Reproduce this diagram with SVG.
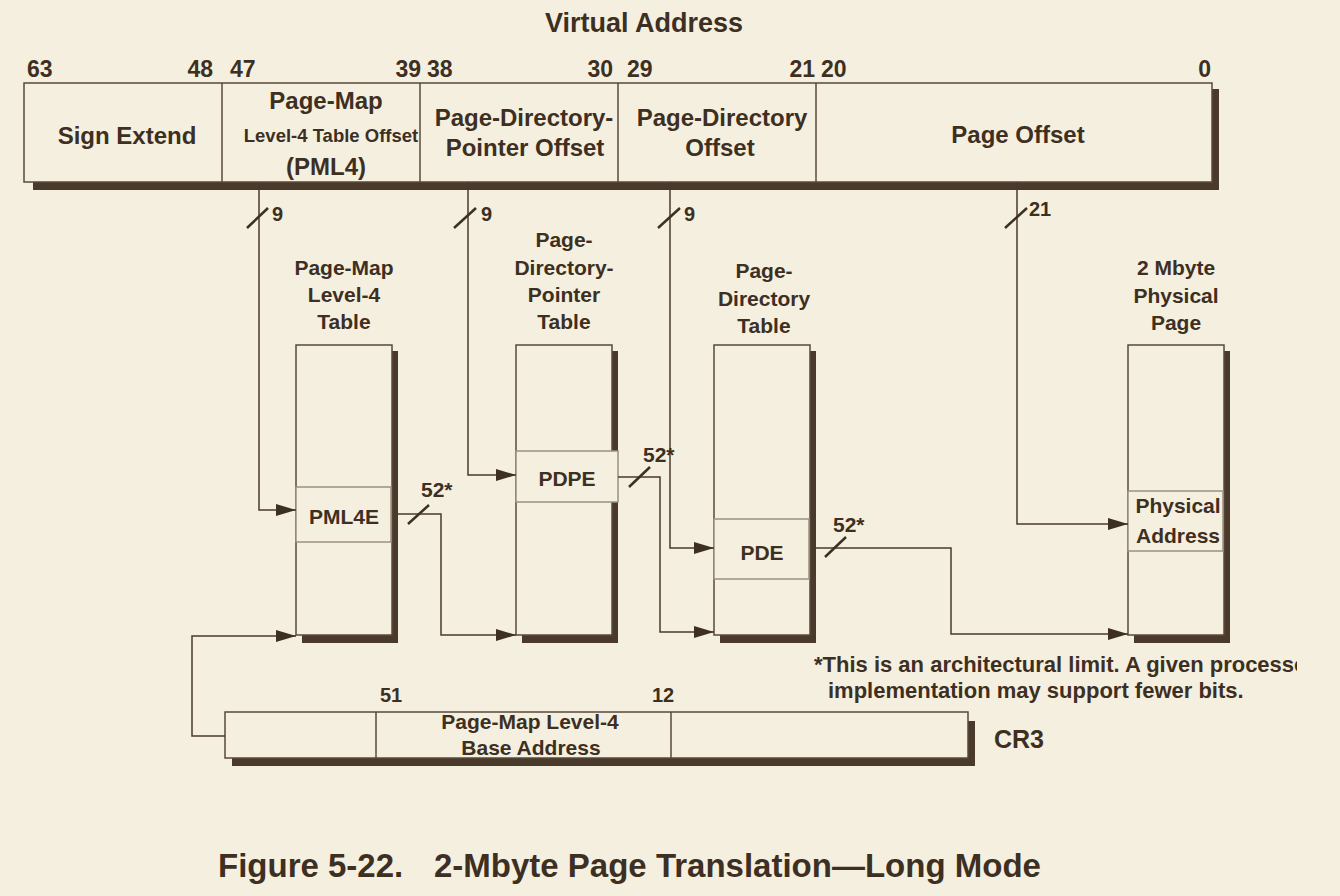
<svg xmlns="http://www.w3.org/2000/svg" width="1340" height="896" viewBox="0 0 1340 896">
<style>
  text { font-family: "Liberation Sans", Arial, sans-serif; font-weight: bold; fill: #3d2f22; }
  .box { fill: #f5efe0; stroke: #5a4a3a; stroke-width: 1.5; }
  .row { fill: #f5efe0; stroke: #9c9080; stroke-width: 1.5; }
  .sh { fill: #4a3a2c; }
  .div { stroke: #5a4a3a; stroke-width: 1.5; }
  .c { fill: none; stroke: #4a3a2c; stroke-width: 1.5; }
  .tick { stroke: #3d2f22; stroke-width: 2.5; }
  .bit { font-size: 23px; }
  .lbl { font-size: 24px; text-anchor: middle; }
  .tl { font-size: 21px; text-anchor: middle; }
  .n { font-size: 20px; }
  .w { font-size: 21px; }
</style>
<defs>
  <marker id="ah" markerUnits="userSpaceOnUse" markerWidth="20" markerHeight="12" refX="20" refY="6" orient="auto">
    <path d="M0,0 L20,6 L0,12 z" fill="#3d2f22"/>
  </marker>
  <clipPath id="fnclip"><rect x="0" y="0" width="1297" height="896"/></clipPath>
</defs>
<rect x="0" y="0" width="1340" height="896" fill="#f5efe0"/>

<text x="644" y="32" font-size="27" text-anchor="middle">Virtual Address</text>

<g id="virtual-address">
  <rect class="sh" x="33" y="89" width="1186" height="101"/>
  <rect class="box" x="24" y="83" width="1188" height="99"/>
  <line class="div" x1="222" y1="83" x2="222" y2="182"/>
  <line class="div" x1="420" y1="83" x2="420" y2="182"/>
  <line class="div" x1="618" y1="83" x2="618" y2="182"/>
  <line class="div" x1="816" y1="83" x2="816" y2="182"/>
  <text class="bit" x="27" y="77">63</text>
  <text class="bit" x="213" y="77" text-anchor="end">48</text>
  <text class="bit" x="230" y="77">47</text>
  <text class="bit" x="421" y="77" text-anchor="end">39</text>
  <text class="bit" x="427" y="77">38</text>
  <text class="bit" x="613" y="77" text-anchor="end">30</text>
  <text class="bit" x="627" y="77">29</text>
  <text class="bit" x="815" y="77" text-anchor="end">21</text>
  <text class="bit" x="821" y="77">20</text>
  <text class="bit" x="1211" y="77" text-anchor="end">0</text>
  <text class="lbl" x="127" y="144">Sign Extend</text>
  <text class="lbl" x="326" y="109">Page-Map</text>
  <text x="331" y="142" font-size="18.5" text-anchor="middle">Level-4 Table Offset</text>
  <text class="lbl" x="326" y="175">(PML4)</text>
  <text class="lbl" x="524" y="126">Page-Directory-</text>
  <text class="lbl" x="525" y="156">Pointer Offset</text>
  <text class="lbl" x="722" y="126">Page-Directory</text>
  <text class="lbl" x="720" y="156">Offset</text>
  <text class="lbl" x="1018" y="143">Page Offset</text>
</g>

<g id="pml4-table">
  <text class="tl" x="344" y="275">Page-Map</text>
  <text class="tl" x="344" y="302">Level-4</text>
  <text class="tl" x="344" y="329">Table</text>
  <rect class="sh" x="302" y="351" width="96" height="292"/>
  <rect class="box" x="296" y="345" width="96" height="290"/>
  <rect class="row" x="296" y="487" width="95" height="55"/>
  <text class="tl" x="344" y="524">PML4E</text>
</g>

<g id="pdp-table">
  <text class="tl" x="564" y="247">Page-</text>
  <text class="tl" x="564" y="275">Directory-</text>
  <text class="tl" x="564" y="302">Pointer</text>
  <text class="tl" x="564" y="329">Table</text>
  <rect class="sh" x="522" y="351" width="96" height="292"/>
  <rect class="box" x="516" y="345" width="96" height="290"/>
  <rect class="row" x="516" y="451" width="102" height="51"/>
  <text class="tl" x="567" y="486">PDPE</text>
</g>

<g id="pd-table">
  <text class="tl" x="764" y="278">Page-</text>
  <text class="tl" x="764" y="306">Directory</text>
  <text class="tl" x="764" y="333">Table</text>
  <rect class="sh" x="720" y="351" width="96" height="292"/>
  <rect class="box" x="714" y="345" width="96" height="290"/>
  <rect class="row" x="714" y="519" width="95" height="60"/>
  <text class="tl" x="762" y="560">PDE</text>
</g>

<g id="physical-page">
  <text class="tl" x="1176" y="275">2 Mbyte</text>
  <text class="tl" x="1176" y="303">Physical</text>
  <text class="tl" x="1176" y="330">Page</text>
  <rect class="sh" x="1134" y="351" width="96" height="292"/>
  <rect class="box" x="1128" y="345" width="96" height="290"/>
  <rect class="row" x="1128" y="491" width="95" height="60"/>
  <text class="tl" x="1178" y="513">Physical</text>
  <text class="tl" x="1178" y="543">Address</text>
</g>

<g id="cr3">
  <rect class="sh" x="232" y="721" width="743" height="45"/>
  <rect class="box" x="225" y="712" width="743" height="46"/>
  <line class="div" x1="376" y1="712" x2="376" y2="758"/>
  <line class="div" x1="671" y1="712" x2="671" y2="758"/>
  <text class="n" x="380" y="702">51</text>
  <text class="n" x="652" y="702">12</text>
  <text class="w" x="530" y="729" text-anchor="middle">Page-Map Level-4</text>
  <text class="w" x="531" y="755" text-anchor="middle">Base Address</text>
  <text x="994" y="748" font-size="25">CR3</text>
</g>

<g id="connectors">
  <path class="c" d="M259,182 V510 H296" marker-end="url(#ah)"/>
  <path class="c" d="M468,182 V475 H516" marker-end="url(#ah)"/>
  <path class="c" d="M670,182 V548 H714" marker-end="url(#ah)"/>
  <path class="c" d="M1017,182 V524 H1128" marker-end="url(#ah)"/>
  <path class="c" d="M225,736 H192 V636 H296" marker-end="url(#ah)"/>
  <path class="c" d="M398,514 H441 V635 H516" marker-end="url(#ah)"/>
  <path class="c" d="M618,477 H660 V632 H714" marker-end="url(#ah)"/>
  <path class="c" d="M816,548 H951 V634 H1128" marker-end="url(#ah)"/>
  <line class="tick" x1="247" y1="228" x2="268" y2="208"/>
  <line class="tick" x1="454" y1="228" x2="476" y2="208"/>
  <line class="tick" x1="658" y1="228" x2="680" y2="208"/>
  <line class="tick" x1="1005" y1="228" x2="1027" y2="208"/>
  <line class="tick" x1="408" y1="524" x2="429" y2="505"/>
  <line class="tick" x1="629" y1="487" x2="650" y2="467"/>
  <line class="tick" x1="825" y1="557" x2="846" y2="537"/>
  <text x="272" y="221" font-size="20">9</text>
  <text x="481" y="221" font-size="20">9</text>
  <text x="684" y="221" font-size="20">9</text>
  <text x="1029" y="216" font-size="20">21</text>
  <text x="421" y="497" font-size="21">52*</text>
  <text x="643" y="462" font-size="21">52*</text>
  <text x="833" y="532" font-size="21">52*</text>
</g>

<g id="footnote" clip-path="url(#fnclip)">
  <text x="814" y="672" font-size="22">*This is an architectural limit. A given processor</text>
  <text x="828" y="698" font-size="22">implementation may support fewer bits.</text>
</g>

<g id="caption">
  <text x="218" y="877" font-size="33">Figure 5-22.</text>
  <text x="434" y="877" font-size="33">2-Mbyte Page Translation—Long Mode</text>
</g>
</svg>
